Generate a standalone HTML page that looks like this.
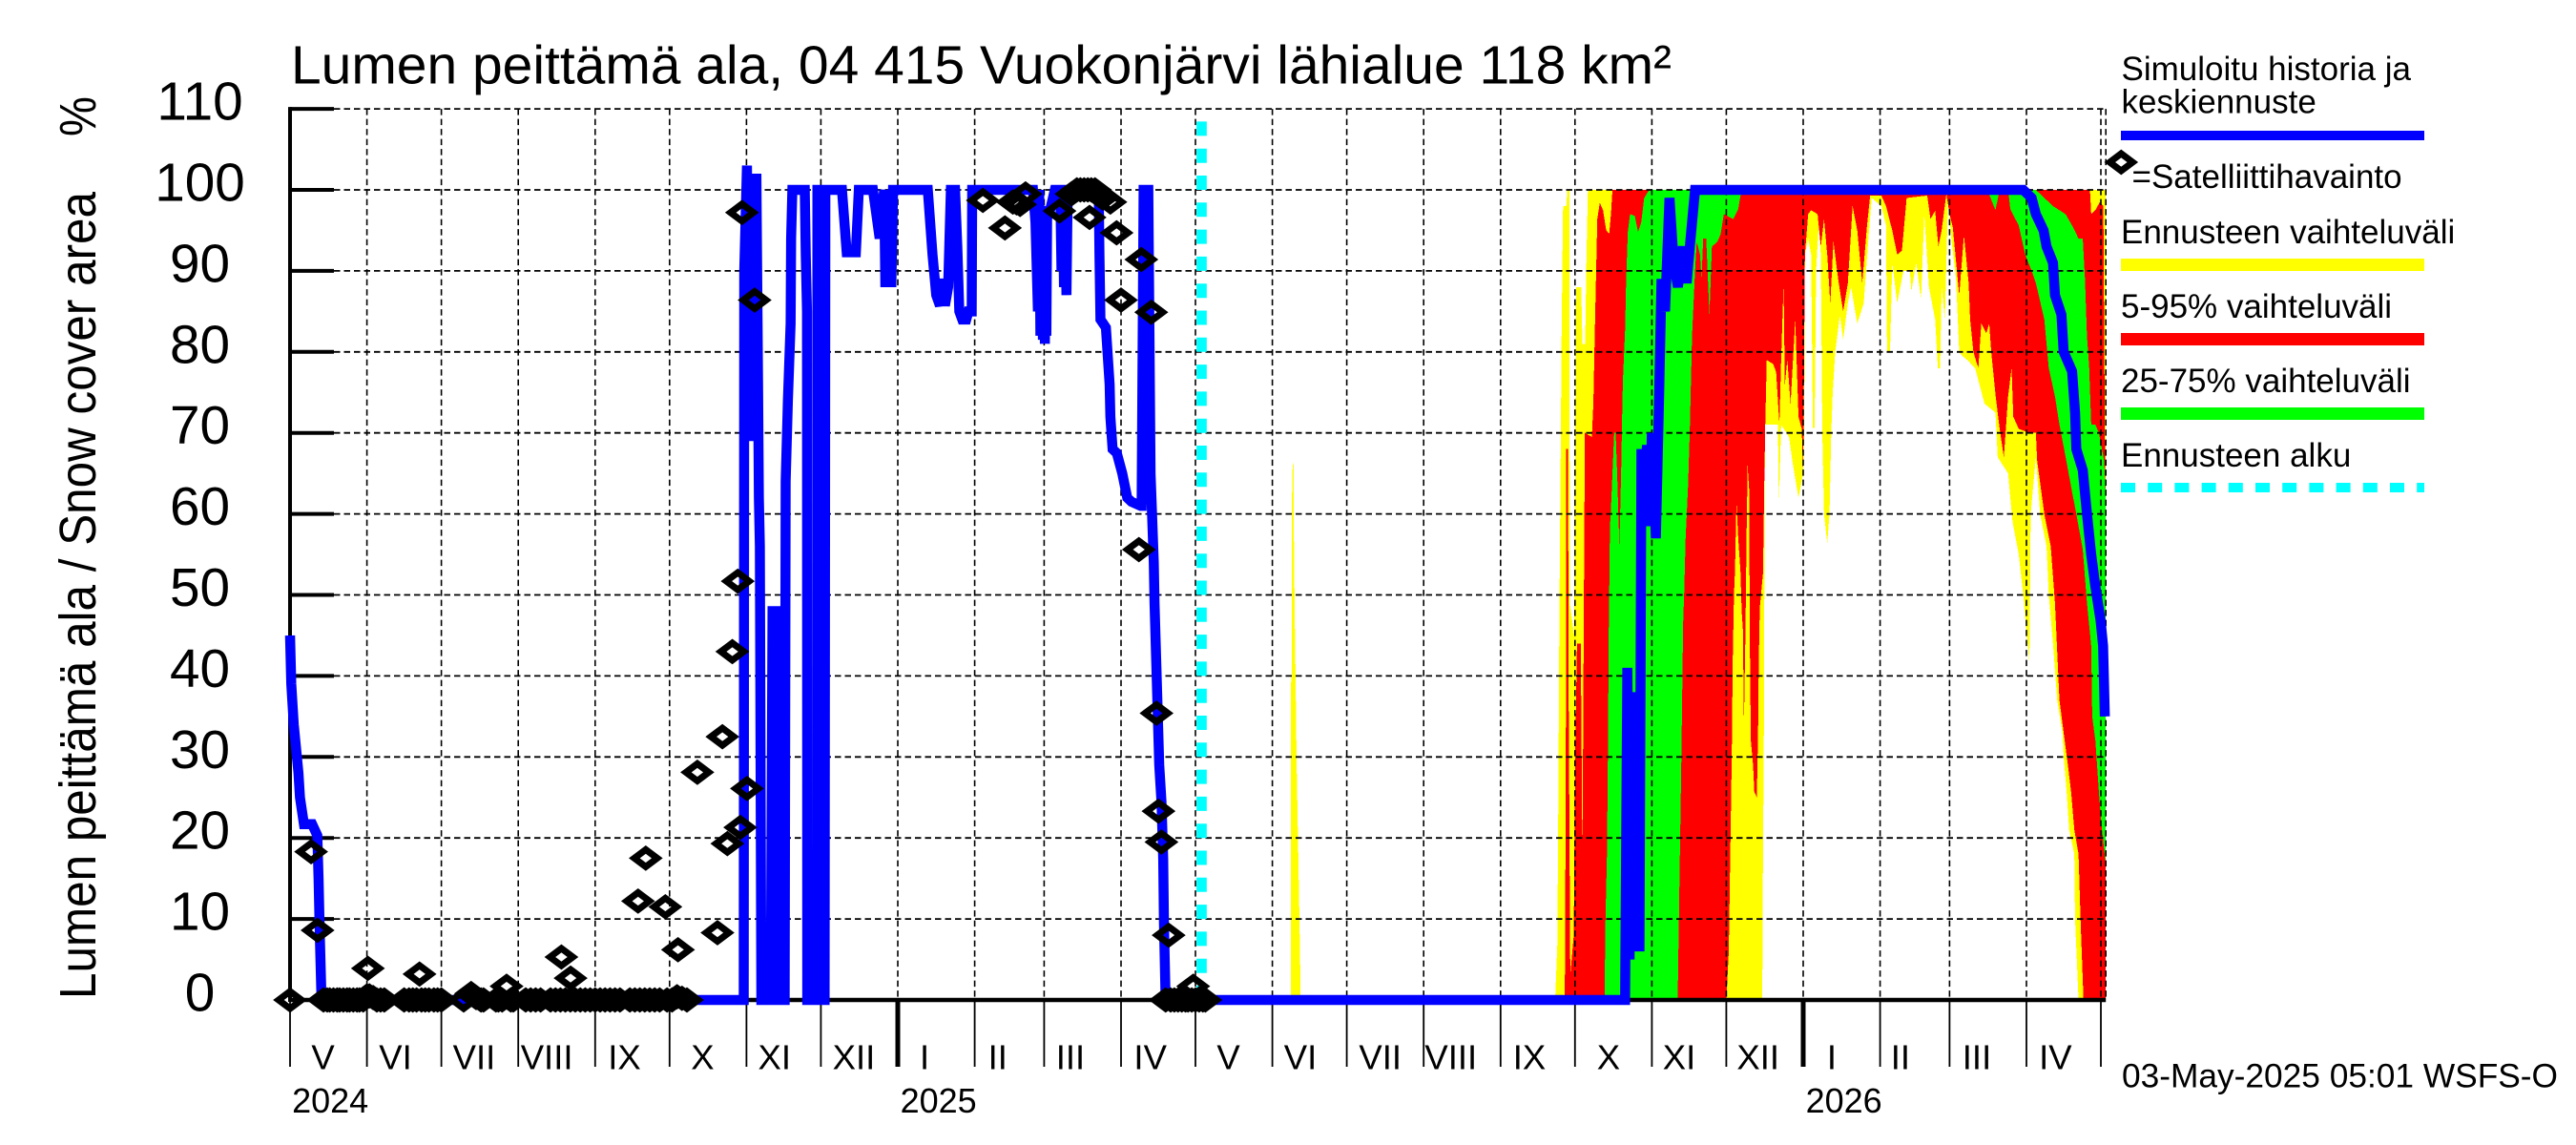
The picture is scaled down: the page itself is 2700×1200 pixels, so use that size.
<!DOCTYPE html>
<html lang="fi">
<head>
<meta charset="utf-8">
<title>Lumen peittämä ala</title>
<style>
html,body{margin:0;padding:0;background:#fff;width:2700px;height:1200px;overflow:hidden}
svg{display:block}
text{font-family:"Liberation Sans",sans-serif;fill:#000}
</style>
</head>
<body>
<svg id="chart" xmlns="http://www.w3.org/2000/svg" width="2700" height="1200" viewBox="0 0 2700 1200">
  <rect x="0" y="0" width="2700" height="1200" fill="#fff"/>
  <text x="305" y="87.5" font-size="57" textLength="1447" lengthAdjust="spacingAndGlyphs">Lumen peittämä ala, 04 415 Vuokonjärvi lähialue 118 km²</text>
  <text transform="translate(100,1047) rotate(-90)" font-size="54" textLength="846" lengthAdjust="spacingAndGlyphs">Lumen peittämä ala / Snow cover area</text>
  <text transform="translate(100,143) rotate(-90)" font-size="54" textLength="42" lengthAdjust="spacingAndGlyphs">%</text>
  <g id="bands"></g>
  <g id="grid"></g>
  <g id="axes"></g>
  <g id="series"></g>
  <g>
    <text x="2223.5" y="84" font-size="35">Simuloitu historia ja</text>
    <text x="2223.5" y="118.5" font-size="35">keskiennuste</text>
    <rect x="2223" y="137" width="318" height="10" fill="#0000ff"/>
    <path d="M2211.3 170 L2223.3 161 L2235.3 170 L2223.3 179 Z" fill="none" stroke="#000" stroke-width="7" stroke-miterlimit="10"/>
    <text x="2234.5" y="197" font-size="35">=Satelliittihavainto</text>
    <text x="2223" y="255" font-size="35">Ennusteen vaihteluväli</text>
    <rect x="2223" y="271" width="318" height="13" fill="#ffff00"/>
    <text x="2223" y="333" font-size="35">5-95% vaihteluväli</text>
    <rect x="2223" y="349" width="318" height="13" fill="#ff0000"/>
    <text x="2223" y="411" font-size="35">25-75% vaihteluväli</text>
    <rect x="2223" y="427" width="318" height="13" fill="#00ff00"/>
    <text x="2223" y="489" font-size="35">Ennusteen alku</text>
    <line x1="2223" y1="511" x2="2541" y2="511" stroke="#00ffff" stroke-width="10" stroke-dasharray="15 13.2"/>
  </g>
  <text x="2224" y="1139.6" font-size="35" textLength="457" lengthAdjust="spacingAndGlyphs">03-May-2025 05:01 WSFS-O</text>
</svg>
<script>
// Axis definitions (days counted from 2024-05-01, values in %)
const yTickValues = [0,10,20,30,40,50,60,70,80,90,100,110];
const monthTickDays = [0,31,61,92,123,153,184,214,245,276,304,335,365,396,426,457,488,518,549,579,610,641,669,700,730];
const yearTickDays = [245,610];
const monthLabels = ["V","VI","VII","VIII","IX","X","XI","XII","I","II","III","IV","V","VI","VII","VIII","IX","X","XI","XII","I","II","III","IV"];
const monthLabelDays = [13.3,42.5,74.2,103.5,134.8,166.3,195.3,227.3,255.8,285.3,314.6,346.8,378.3,407.3,439.5,468,499.6,531.5,560,591.8,621.5,649.2,680,711.7];
const yearLabels = ["2024","2025","2026"];
const yearLabelDays = [0.8,246,611];
const lastDay = 732;
const forecastStartDay = 367.5;

// Band edges as [day, percent]
const yellowTop = [[403.4,0],[403.5,39],[403.8,40],[403.9,62],[404.2,66.4],[404.6,66],[404.7,57],[405,48],[405.4,39],[405.8,29],[406.4,19],[406.8,12],[407.2,5],[407.3,0],[510,0],[510.4,3],[510.9,7],[511.3,25],[511.7,47],[512.3,70],[512.6,82],[513,93],[513.2,98],[514.5,98],[514.9,100],[515.8,100],[515.9,49],[517.7,45],[518.4,88],[520.5,88],[521,81],[522.1,81],[522.6,91],[523.2,100],[732,100]];
const yellowBottom = [[403.4,0],[593.5,0],[593.8,18.5],[594.1,30],[594.3,44],[594.4,62],[594.7,71],[599.8,71],[600.2,61],[601.1,71],[604.3,69.5],[605.6,66.6],[608.1,62],[610,65],[610.4,70],[610.7,92],[612,94],[613.2,92],[613.9,70.6],[614.6,70.6],[615.2,90],[616.2,95.5],[617.1,92],[617.7,70],[618.4,60],[619.7,56.4],[620.6,60],[621.3,70],[621.9,75],[622.9,80],[624.8,84.5],[626.1,81.5],[628,86],[629.3,88],[631.8,83.5],[634.4,86],[636.3,94],[637.6,99],[641.5,98],[643.4,95.6],[643.8,80],[645,80],[645.9,91],[647.9,86],[650.4,90],[653,90],[653.6,87.5],[655.6,91],[657.5,86.5],[658.8,97],[660.7,88],[663.2,84],[664.3,78],[665.2,78],[665.8,88],[667.1,84],[668.4,99],[669.7,94],[671.6,89],[672.9,80],[674.1,79.5],[676.1,79],[679.3,78],[683.1,73.6],[687.5,72.5],[688.4,67],[692.6,65],[694.4,59],[696.9,55],[698.7,50],[701.2,41.5],[701.7,60],[703.8,67],[705.5,60],[708.1,56],[709,50],[710.7,44],[712.4,37],[714.5,33],[715,30],[716.2,25.7],[717.2,21],[719.3,18],[719.6,10],[721,0],[732,0]];
const redTop = [[513.9,0],[514.3,27],[514.5,68],[515.2,68],[515.4,40],[516.1,3],[517.5,8],[518.1,30],[518.8,44],[520.3,44],[520.5,37],[521,17],[521.6,50],[522,70],[524.8,69.5],[525.4,73.6],[526.1,84],[527,96.4],[528,98.4],[529.3,97.5],[530.6,95],[531.8,94.6],[532.5,97],[533.1,100],[725.6,100],[726.1,97],[727.8,97.5],[729.6,98.5],[731,98],[731.6,70],[732,60]];
const redBottom = [[513.9,0],[579,0],[580,6],[580.6,18],[581.2,30],[581.6,42],[582.1,50],[582.5,53],[583.1,61.5],[583.8,57],[584.7,53],[585.2,48],[585.7,45.7],[586.1,34],[586.7,45],[587.2,58],[587.6,66],[588.2,63],[588.5,44],[588.9,32],[589.8,29],[590.3,25.7],[591.3,25],[591.8,33],[592.1,42],[592.5,48.4],[593.8,52.7],[594.3,63.5],[594.7,71],[595.3,79],[597.9,78.5],[599.1,77.5],[600.4,71],[601.1,79],[602.1,88.5],[602.6,76],[603.6,79],[604.9,73.6],[606.8,84],[608.1,72],[609.4,70.5],[610,65],[610.7,92],[612,97],[613.2,97.5],[615.8,97],[617.1,93],[618.4,96.4],[619.7,92],[620.9,86],[622.2,93.6],[624.1,89],[626.1,85],[628,88.5],[629.9,98],[631.8,95],[633.8,88.5],[635.7,95.5],[637,99.3],[641.5,99.3],[643.4,98],[645.9,95],[647.9,92],[649.8,92.5],[651.7,99],[660,99.3],[661.3,96.4],[663.2,97.4],[664.5,93],[665.8,95],[667.7,99.5],[669,97],[670.3,95.4],[672.9,87],[674.8,94.4],[676.7,88.5],[677.3,84],[678.6,80],[680.6,78],[681.8,83.5],[683.8,82.3],[685,83.5],[685.8,80],[687.6,74.5],[689.2,70.5],[690.9,67],[692.6,74.5],[694,78],[694.7,72],[696.9,70.5],[701.2,70],[703.8,70],[704.3,66.6],[707.2,60],[709.8,56],[711.5,49],[713.3,37],[715,33],[716.7,29],[718,25.7],[719.3,21],[721,18],[721.8,10],[723,0],[732,0]];
const greenTop = [[529.9,0],[530.3,10],[530.9,18],[531.3,31],[531.6,45],[532.1,58.4],[532.5,60.7],[533.1,65],[533.8,70],[534.4,70],[535,65],[535.9,56],[536.7,66.6],[537,72],[537.3,76.4],[538.2,82.7],[538.6,88.5],[539.3,94.8],[540.2,97],[542.1,96.8],[543.4,94.8],[544.7,96],[545.9,99],[547.9,100],[703.8,100],[710.7,98],[715.8,97],[718.4,95.6],[721,94],[722.7,94],[723.6,89],[724.4,82],[725.3,78],[726.1,71],[727.8,71],[729.2,70],[731.3,66.6],[732,62]];
const greenBottom = [[529.9,0],[559.4,0],[560,12],[560.9,30],[561.6,46.5],[562,50],[562.6,57],[563.6,63.5],[564.3,70.5],[565.2,82],[566.4,90],[567.1,93.6],[568.4,92],[569,89],[569.7,94],[570.9,94],[572.2,84.6],[573.2,93],[575.4,93.6],[576.7,94.5],[578,97],[581.8,96.4],[583.8,97.6],[584.7,99.3],[588.2,100],[684.9,99.5],[687.5,97.5],[689.2,100],[692.6,100],[693.5,97.6],[696.9,95.6],[699.5,92],[702.1,90],[703.8,88.5],[707.2,84],[709,78],[711.5,74.5],[713.3,71],[715.8,67],[718.4,62.7],[720.1,60],[722.7,55.6],[724.4,49],[726.1,43.7],[726.5,35],[727.8,32],[729.2,25.7],[730.1,22],[732,16.6]];

// Simulated history and mean forecast as [day, percent]
const simulatedLine = [[0,45],[0.5,39],[1.5,34],[3.4,28],[4,25],[5.6,21.7],[8.9,21.7],[11,20.3],[11.5,15],[12,8],[12.7,0],[182.9,0],[183.1,90],[184.2,103],[184.8,69],[185.3,100],[185.8,69],[186.3,100],[186.8,69],[187.3,100],[187.8,69],[188,102],[188.7,75],[189,62],[189.4,56],[190,0],[193.8,0],[194.5,48],[196.2,48],[196.8,0],[199.4,0],[199.8,64],[200.7,74],[201.8,83.5],[202,94],[202.5,100],[207.5,100],[207.9,92],[208.4,85],[208.5,0],[212.5,0],[212.6,100],[214,100],[214.8,0],[215.5,0],[215.8,100],[222.5,100],[224.4,92.3],[228.1,92.3],[229.3,100],[235,100],[237.7,94],[239.5,100],[240,88],[240.8,100],[241.3,88],[241.8,100],[242.4,88],[243.1,100],[257.1,100],[259,92],[260.5,87],[262,85.7],[263,89],[264,85.7],[265.3,88],[266.4,100],[268.1,100],[269,93],[269.8,85],[271,84],[272.6,84],[273.5,85],[274.8,85],[275,100],[299.5,100],[300.5,96],[301.5,85],[302,100],[302.5,82],[303,98],[303.5,81.5],[304,96.6],[304.3,81],[304.6,96.6],[304.9,82],[305.2,96.6],[306,97],[308.3,100],[310.5,100],[311,90],[311.5,100],[312,88],[312.5,100],[313,87],[313.5,100],[322.3,100],[326,100],[326.3,92],[326.7,84],[328.9,83],[330.4,76],[330.7,72],[331.6,68],[333.3,67.5],[335.5,65],[337.5,62],[339.2,61.5],[342.9,61],[343.3,61],[344.1,100],[346,100],[346.9,65],[347.5,60],[348.2,54],[348.5,49],[350.4,29],[351.3,24.5],[352,17.4],[352.3,9.5],[352.9,1],[353.2,0],[538.2,0],[539.1,41],[540,5],[541,38],[542,6],[543,36],[544,6],[544.8,68],[546,60],[547,68.5],[548,58.5],[549,70],[550.6,57],[551.8,73],[552.9,89],[554.3,85],[556.1,99],[557.8,91],[559.5,88],[561.5,93],[563,88.5],[564,92],[566.4,100],[698.7,100],[702.1,99],[703.8,97],[706.9,95],[708.1,93],[710.7,91],[711.5,87],[714.1,84.6],[715,80],[718.4,77.6],[719.6,72.5],[720.1,68],[722.7,65.4],[724.4,60],[726.1,55],[727.8,51],[729.9,46.8],[730.9,43.7],[731.6,35]];

// Satellite observations as [day, percent]
const satelliteObservations = [[0,0],[8.5,18.3],[11.1,8.6],[13.5,0],[15,0],[16,0],[17.5,0],[19,0],[20,0],[21.5,0],[23,0],[24,0],[25.5,0],[27,0],[28,0],[29.5,0],[31,0.5],[31.4,3.9],[32,0.5],[33.5,0.3],[35,0],[36.5,0],[38,0],[46,0],[48,0],[49.5,0],[51,0],[52.2,3.2],[53,0],[54.5,0],[56,0],[58,0],[59.5,0],[61,0],[70,0],[73,0.8],[75,0.3],[77,0],[78,0],[83,0],[84,0],[85.5,0],[87.3,1.7],[89,0],[90,0],[95,0],[97,0],[99,0],[101,0],[105,0],[107,0],[109,0],[109.4,5.3],[111,0],[113,0],[113.1,2.7],[115,0],[117,0],[119,0],[121,0],[123,0],[125,0],[127,0],[129,0],[131,0],[133,0],[137,0],[139,0],[140.3,12.2],[141,0],[143,0],[143.4,17.5],[145,0],[147,0],[149,0],[151.3,11.5],[152,0],[154,0],[156,0.4],[156.4,6.2],[158,0.2],[160,0],[164.2,28.1],[172.3,8.3],[174.3,32.5],[176.3,19.3],[178.3,43],[180.5,51.7],[181.5,21.3],[182.2,97.2],[184.2,26.1],[187.3,86.4],[279.3,98.7],[288.2,95.3],[291.4,98.5],[292.9,98.4],[294.3,98.2],[296.5,99.5],[310.2,97.4],[315,99.5],[317.2,100],[318.6,100],[320.1,100],[321.6,100],[322.3,96.6],[323,100],[324.5,100],[326,99.5],[327.5,99],[330.7,98.5],[333.2,94.7],[335,86.4],[342.2,55.6],[343.2,91.4],[347.2,84.9],[349.3,35.4],[350.1,23.3],[351.3,19.5],[353,0],[354.2,8],[355,0],[356.5,0],[358,0],[359.5,0],[361,0],[362,0],[363.5,0],[364.1,1.7],[365,0],[366.5,0],[368,0],[369,0]];

const NS = 'http://www.w3.org/2000/svg';
const X0 = 304, PX_PER_DAY = 2.6, Y0 = 1048, PX_PER_PCT = 8.49;
function xScale(day){ return X0 + day * PX_PER_DAY; }
function yScale(pct){ return Y0 - pct * PX_PER_PCT; }
function make(tag, parent){ const el = document.createElementNS(NS, tag); parent.appendChild(el); return el; }
function set(el, attrs){ for (const k in attrs) el.setAttribute(k, attrs[k]); return el; }
function edgePoints(edge){ return edge.map(p => xScale(p[0]).toFixed(2) + ',' + yScale(p[1]).toFixed(2)); }
function bandPoints(top, bottom){ return edgePoints(top).concat(edgePoints(bottom.slice().reverse())).join(' '); }

const bandsG = document.getElementById('bands');
const gridG = document.getElementById('grid');
const axesG = document.getElementById('axes');
const seriesG = document.getElementById('series');

// Forecast bands
const yellowBand = set(make('polygon', bandsG), {points: bandPoints(yellowTop, yellowBottom), fill: '#ffff00', 'shape-rendering': 'crispEdges'});


const redBand = set(make('polygon', bandsG), {points: bandPoints(redTop, redBottom), fill: '#ff0000', 'shape-rendering': 'crispEdges'});


const greenBand = set(make('polygon', bandsG), {points: bandPoints(greenTop, greenBottom), fill: '#00ff00', 'shape-rendering': 'crispEdges'});



// Grid
yTickValues.slice(1).forEach(v => {
  const l = set(make('line', gridG), {x1: 350, x2: xScale(lastDay), y1: yScale(v), y2: yScale(v), stroke: '#000', 'stroke-width': 1.8, 'stroke-dasharray': '6.5 4'});
  
  
});
monthTickDays.slice(1).concat([lastDay]).forEach(d => {
  const l = set(make('line', gridG), {x1: xScale(d), x2: xScale(d), y1: yScale(110), y2: Y0, stroke: '#000', 'stroke-width': 1.6, 'stroke-dasharray': '6.5 4'});
  
  
});

// Forecast start marker
const startLine = set(make('line', gridG), {x1: xScale(forecastStartDay), x2: xScale(forecastStartDay), y1: Y0, y2: yScale(110), stroke: '#00ffff', 'stroke-width': 10.7, 'stroke-dasharray': '15 13.3'});



// Axes
const yAxis = set(make('line', axesG), {x1: X0, x2: X0, y1: yScale(110) - 2, y2: Y0 + 2, stroke: '#000', 'stroke-width': 4});


const xAxis = set(make('line', axesG), {x1: X0, x2: xScale(lastDay), y1: Y0, y2: Y0, stroke: '#000', 'stroke-width': 4.5});


yTickValues.forEach(v => {
  const t = set(make('line', axesG), {x1: X0, x2: 350, y1: yScale(v), y2: yScale(v), stroke: '#000', 'stroke-width': 4});
  
  
  const lab = set(make('text', axesG), {x: 209.5, y: yScale(v) + 11.5, 'text-anchor': 'middle', 'font-size': 56.7});
  lab.textContent = String(v);
  
  
});
monthTickDays.forEach(d => {
  const isYear = yearTickDays.indexOf(d) >= 0;
  const t = set(make('line', axesG), {x1: xScale(d), x2: xScale(d), y1: Y0, y2: 1118, stroke: '#000', 'stroke-width': isYear ? 5 : 1.8});
  
  
});
monthLabels.forEach((name, i) => {
  const lab = set(make('text', axesG), {x: xScale(monthLabelDays[i]), y: 1120.5, 'text-anchor': 'middle', 'font-size': 36.5});
  lab.textContent = name;
  
  
});
yearLabels.forEach((name, i) => {
  const lab = set(make('text', axesG), {x: xScale(yearLabelDays[i]), y: 1166, 'font-size': 36});
  lab.textContent = name;
  
  
});

// Simulated history + mean forecast
const blueLine = set(make('polyline', seriesG), {points: edgePoints(simulatedLine).join(' '), fill: 'none', stroke: '#0000ff', 'stroke-width': 10.5, 'stroke-linejoin': 'miter', 'stroke-miterlimit': 3});



// Satellite observations
satelliteObservations.forEach(o => {
  const cx = xScale(o[0]), cy = yScale(o[1]);
  const m = set(make('path', seriesG), {d: 'M' + (cx - 12) + ' ' + cy + ' L' + cx + ' ' + (cy - 9) + ' L' + (cx + 12) + ' ' + cy + ' L' + cx + ' ' + (cy + 9) + ' Z', fill: 'none', stroke: '#000', 'stroke-width': 7, 'stroke-miterlimit': 10});
  
  
});
</script>
</body>
</html>
